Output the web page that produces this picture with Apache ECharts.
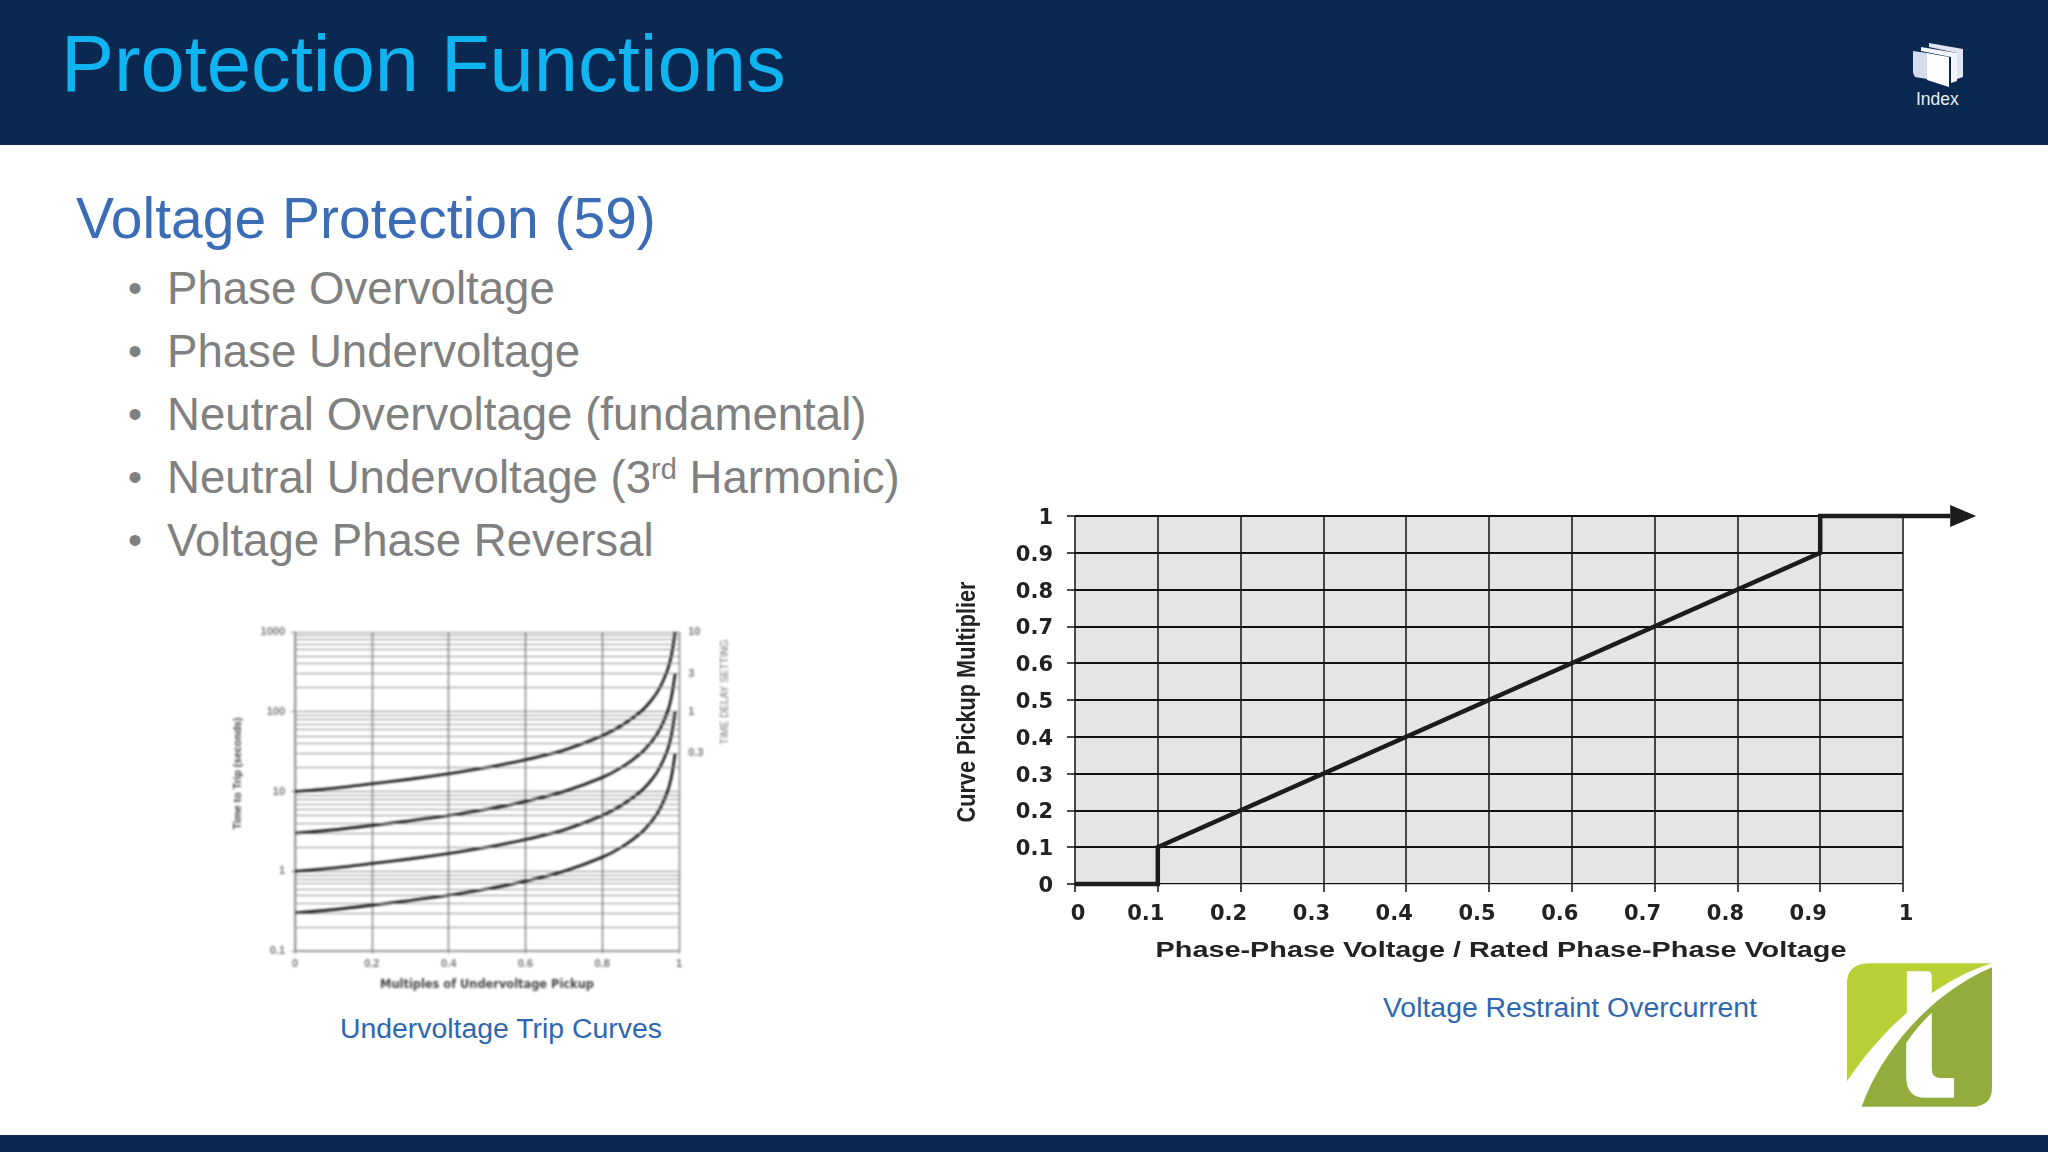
<!DOCTYPE html>
<html>
<head>
<meta charset="utf-8">
<title>Protection Functions</title>
<script src="https://cdn.jsdelivr.net/npm/echarts@6/dist/echarts.min.js"></script>
<style>
  html, body { margin: 0; padding: 0; background: #fff; }
  body { position: relative; width: 2048px; height: 1152px; overflow: hidden; font-family: 'Liberation Sans', Arial, sans-serif; }
  .band { position: absolute; left: 0; width: 2048px; background: #0b2850; }
  .abs { position: absolute; white-space: nowrap; line-height: 1; }
  #title { left: 61px; top: 24px; font-size: 79.5px; color: #10b4f0; }
  #subtitle { left: 76px; top: 190px; font-size: 57px; color: #3a6db5; }
  .bullet { left: 167px; font-size: 45.6px; color: #808080; }
  .bullet::before { content: '\2022'; position: absolute; left: -39px; top: 2px; font-size: 40px; }
  sup { font-size: 29px; line-height: 0; vertical-align: 14px; }
  .caption { font-size: 28.4px; color: #2e67b1; }
  #index-label { left: 1916px; top: 91px; width: 42px; text-align: center; font-size: 17.5px; color: #e8eef8; }
  #chart-trip { position: absolute; left: 200px; top: 600px; width: 560px; height: 400px; filter: blur(0.8px); }
  #chart-restraint { position: absolute; left: 930px; top: 490px; width: 1118px; height: 490px; filter: blur(0.3px); }
</style>
</head>
<body>
<div class="band" style="top:0;height:145px"></div>
<div class="band" style="top:1135px;height:17px"></div>
<div class="abs" id="title">Protection Functions</div>
<div class="abs" id="subtitle">Voltage Protection (59)</div>
<div class="abs bullet" style="top:266px">Phase Overvoltage</div>
<div class="abs bullet" style="top:329px">Phase Undervoltage</div>
<div class="abs bullet" style="top:392px">Neutral Overvoltage (fundamental)</div>
<div class="abs bullet" style="top:455px">Neutral Undervoltage (3<sup>rd</sup> Harmonic)</div>
<div class="abs bullet" style="top:518px">Voltage Phase Reversal</div>

<div id="chart-trip"></div>
<div id="chart-restraint"></div>

<div class="abs caption" style="left:340px;top:1014px">Undervoltage Trip Curves</div>
<div class="abs caption" style="left:1383px;top:993px">Voltage Restraint Overcurrent</div>

<svg style="position:absolute;left:1913px;top:43px" width="50" height="45" viewBox="0 0 50 45">
  <polygon points="16,0 50,6 50,34 44,36 44,10 16,4" fill="#dfe6f2"/>
  <polygon points="8,4 44,10 44,38 38,40 38,14 8,8" fill="#f2f5fb"/>
  <polygon points="0,8 14,10 14,36 2,34 0,30" fill="#d5dcec"/>
  <polygon points="14,10 36,14 36,44 14,37" fill="#ffffff"/>
</svg>
<div class="abs" id="index-label">Index</div>

<svg style="position:absolute;left:1847px;top:963px" width="145" height="144" viewBox="0 0 436 432">
  <path d="M0 355 V60 Q0 0 70 0 H436 C300 40 130 160 0 355 Z" fill="#b8d035"/>
  <path d="M44 432 C100 270 250 90 436 12 V375 Q436 432 370 432 Z" fill="#93ad3c"/>
  <path d="M180 24 H240 Q255 24 255 40 V98 C228 118 203 138 180 162 Z" fill="#fff"/>
  <path d="M255 148 V320 Q255 345 280 345 H322 V405 H235 Q178 405 178 340 V240 C200 205 228 175 255 148 Z" fill="#fff"/>
</svg>

<script>
// undervoltage trip curves
const pickupMultiple = [0, 0.1, 0.2, 0.3, 0.4, 0.5, 0.6, 0.7, 0.8, 0.85, 0.9, 0.93, 0.95, 0.97, 0.98, 0.99];
const delay10 = [10, 11, 12.5, 14.3, 16.7, 20, 25, 33, 50, 67, 100, 143, 200, 333, 500, 1000];
const delay3 = [3, 3.3, 3.75, 4.3, 5, 6, 7.5, 10, 15, 20, 30, 43, 60, 100, 150, 300];
const delay1 = [1, 1.1, 1.25, 1.43, 1.67, 2, 2.5, 3.3, 5, 6.7, 10, 14.3, 20, 33, 50, 100];
const delay03 = [0.3, 0.33, 0.375, 0.43, 0.5, 0.6, 0.75, 1, 1.5, 2, 3, 4.3, 6, 10, 15, 30];
const minorTimes = [
  0.2, 0.3, 0.4, 0.5, 0.6, 0.7, 0.8, 0.9,
  2, 3, 4, 5, 6, 7, 8, 9,
  20, 30, 40, 50, 60, 70, 80, 90,
  200, 300, 400, 500, 600, 700, 800, 900
];

// voltage restraint characteristic, the last point runs past the axis into the arrow
const voltageRatio = [0, 0.1, 0.1, 0.9, 0.9, 1.057];
const pickupMultiplier = [0, 0, 0.1, 0.9, 1, 1];

const tripColor = '#111';
const tripLabel = { color: '#777', fontSize: 11, fontFamily: 'Liberation Sans', fontWeight: 'bold' };
const restraintLabel = { color: '#222', fontSize: 21, fontWeight: 'bold', fontFamily: 'DejaVu Sans' };

function tripCurve(name, values, extra) {
  return Object.assign({
    name: name,
    type: 'line',
    data: values.map((value, i) => [pickupMultiple[i], value]),
    smooth: 0.25,
    symbol: 'none',
    lineStyle: { width: 2.6, color: tripColor },
    endLabel: {
      show: true,
      formatter: name,
      distance: 13,
      color: '#777',
      fontSize: 11,
      fontWeight: 'bold',
      fontFamily: 'Liberation Sans'
    }
  }, extra);
}

function renderStepLine(params, api) {
  if (params.dataIndex !== 0) {
    return null;
  }
  const points = voltageRatio.map((ratio, i) => api.coord([ratio, pickupMultiplier[i]]));
  const tip = points[points.length - 1];
  return {
    type: 'group',
    children: [
      {
        type: 'polyline',
        shape: { points: points },
        style: { fill: 'none', stroke: '#1c1c1c', lineWidth: 4.5, lineJoin: 'miter' }
      },
      {
        type: 'polygon',
        shape: { points: [[tip[0], tip[1] - 11], [tip[0] + 26, tip[1]], [tip[0], tip[1] + 11]] },
        style: { fill: '#1c1c1c' }
      }
    ]
  };
}

const tripChart = echarts.init(document.getElementById('chart-trip'));
const restraintChart = echarts.init(document.getElementById('chart-restraint'));

tripChart.setOption({
  animation: false,
  grid: { left: 95, top: 32, width: 384, height: 319 },
  xAxis: {
    type: 'value',
    min: 0,
    max: 1,
    interval: 0.2,
    name: 'Multiples of Undervoltage Pickup',
    nameLocation: 'middle',
    nameGap: 29,
    nameTextStyle: { color: '#444', fontSize: 11.4, fontWeight: 'bold', fontFamily: 'DejaVu Sans' },
    axisLabel: Object.assign({ margin: 7 }, tripLabel),
    axisLine: { onZero: false, lineStyle: { color: '#888', width: 1.5 } },
    axisTick: { length: 3, lineStyle: { color: '#888' } },
    splitLine: { show: true, lineStyle: { color: '#777', width: 1.3 } }
  },
  yAxis: {
    type: 'log',
    logBase: 10,
    min: 0.1,
    max: 1000,
    name: 'Time to Trip (seconds)',
    nameLocation: 'middle',
    nameGap: 51,
    nameTextStyle: { color: '#444', fontSize: 10.5, fontWeight: 'bold', fontFamily: 'Liberation Sans', padding: [0, 0, 0, 36] },
    axisLabel: Object.assign({ margin: 10, formatter: (value) => String(value) }, tripLabel),
    axisLine: { lineStyle: { color: '#888', width: 1.5 } },
    axisTick: { length: 4, lineStyle: { color: '#888' } },
    splitLine: { show: true, lineStyle: { color: '#888', width: 1 } },
    minorTick: { show: false },
    minorSplitLine: { show: false }
  },
  graphic: [{
    type: 'text',
    x: 525,
    y: 92,
    rotation: Math.PI / 2,
    style: {
      text: 'TIME DELAY SETTING',
      fill: '#777',
      fontSize: 10,
      fontFamily: 'Liberation Sans',
      align: 'center',
      verticalAlign: 'middle'
    }
  }],
  series: [
    tripCurve('10', delay10, {
      markLine: {
        silent: true,
        symbol: 'none',
        label: { show: false },
        lineStyle: { type: 'solid', color: '#8f8f8f', width: 1 },
        data: minorTimes.map((time) => ({ yAxis: time }))
      }
    }),
    tripCurve('3', delay3),
    tripCurve('1', delay1),
    tripCurve('0.3', delay03)
  ]
});

restraintChart.setOption({
  animation: false,
  grid: { left: 145, top: 26, width: 828, height: 368, backgroundColor: '#e5e5e7', borderWidth: 0, show: true },
  xAxis: {
    type: 'value',
    min: 0,
    max: 1,
    interval: 0.1,
    axisLabel: {
      margin: 20,
      formatter: (value) => (value === 0 || value === 1 ? '{edge|' + value + '}' : '{mid|' + value + '}'),
      rich: {
        edge: Object.assign({ padding: [0, 0, 0, 6] }, restraintLabel),
        mid: Object.assign({ padding: [0, 24, 0, 0] }, restraintLabel)
      }
    },
    axisLine: { onZero: false, lineStyle: { color: '#c9c9cc', width: 1 } },
    axisTick: { length: 8, lineStyle: { color: '#111', width: 1.5 } },
    splitLine: { show: true, lineStyle: { color: '#111', width: 1.5 } }
  },
  yAxis: {
    type: 'value',
    min: 0,
    max: 1,
    interval: 0.1,
    axisLabel: {
      margin: 22,
      formatter: (value) => '{tick|' + value + '}',
      rich: { tick: Object.assign({ padding: [5, 0, 0, 0] }, restraintLabel) }
    },
    axisLine: { show: false },
    axisTick: { length: 8, lineStyle: { color: '#111', width: 1.5 } },
    splitLine: { show: true, lineStyle: { color: '#111', width: 1.8 } }
  },
  // axis names stretched to match the wide scan, which an axis name cannot do
  graphic: [
    {
      type: 'text',
      x: 571,
      y: 461,
      scaleX: 1.31,
      style: {
        text: 'Phase-Phase Voltage / Rated Phase-Phase Voltage',
        fill: '#222',
        fontSize: 22,
        fontWeight: 'bold',
        fontFamily: 'Liberation Sans',
        align: 'center',
        verticalAlign: 'middle'
      }
    },
    {
      type: 'text',
      x: 38,
      y: 212,
      rotation: Math.PI / 2,
      scaleY: 1.2,
      style: {
        text: 'Curve Pickup Multiplier',
        fill: '#222',
        fontSize: 21.7,
        fontWeight: 'bold',
        fontFamily: 'Liberation Sans',
        align: 'center',
        verticalAlign: 'middle'
      }
    }
  ],
  series: [{
    name: 'Curve pickup multiplier',
    type: 'custom',
    renderItem: renderStepLine,
    data: voltageRatio.map((ratio, i) => [ratio, pickupMultiplier[i]]),
    encode: { x: 0, y: 1 }
  }]
});
</script>
</body>
</html>
